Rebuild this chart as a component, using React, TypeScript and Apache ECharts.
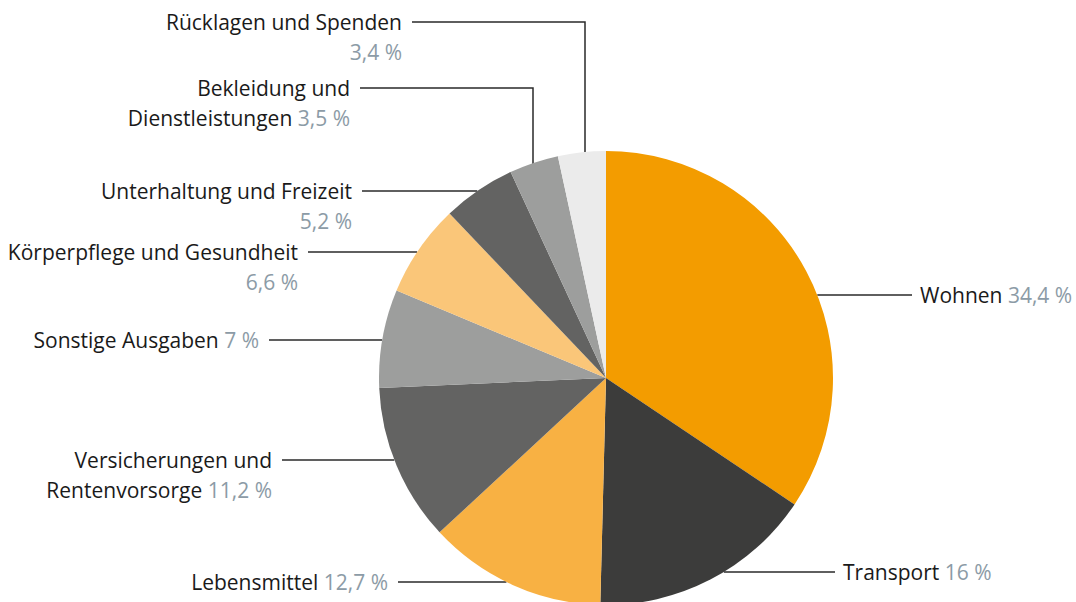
import React, { useEffect, useRef } from "react";
import * as echarts from "echarts";

const categories = [
  "Wohnen",
  "Transport",
  "Lebensmittel",
  "Versicherungen und\nRentenvorsorge",
  "Sonstige Ausgaben",
  "Körperpflege und Gesundheit",
  "Unterhaltung und Freizeit",
  "Bekleidung und\nDienstleistungen",
  "Rücklagen und Spenden",
];
const values = [34.4, 16, 12.7, 11.2, 7, 6.6, 5.2, 3.5, 3.4];
const valueOnNewLine = [false, false, false, false, false, true, true, false, true];
const colors = [
  "#F39C00",
  "#3C3C3B",
  "#F8B143",
  "#636362",
  "#9D9E9D",
  "#FAC679",
  "#636362",
  "#9D9E9D",
  "#EBEBEB",
];

// label placement (styling/layout only)
const CX = 606;
const CY = 378;
const R = 227;
const LH = 30;
const FS = 21;
const layout = [
  { side: "right", textX: 920, lineY: 295 },
  { side: "right", textX: 843, lineY: 572 },
  { side: "left", textX: 388, lineY: 582 },
  { side: "left", textX: 272, lineY: 460 },
  { side: "left", textX: 259, lineY: 340 },
  { side: "left", textX: 298, lineY: 252 },
  { side: "left", textX: 352, lineY: 191 },
  { side: "left", textX: 350, lineY: 88, elbowX: 533 },
  { side: "left", textX: 402, lineY: 22, elbowX: 585 },
];

const fmt = (v: number) => String(v).replace(".", ",") + " %";

export default function App() {
  const ref = useRef<HTMLDivElement>(null);
  useEffect(() => {
    if (!ref.current) return;
    const chart = echarts.init(ref.current, null, { renderer: "svg" });
    const data = categories.map((name, i) => ({
      name,
      value: values[i],
      itemStyle: { color: colors[i] },
    }));
    chart.setOption({
      animation: false,
      backgroundColor: "#ffffff",
      series: [
        {
          type: "pie",
          center: [CX, CY],
          radius: R,
          startAngle: 90,
          clockwise: true,
          avoidLabelOverlap: false,
          data,
          label: {
            show: true,
            position: "outside",
            fontFamily: "Open Sans",
            fontSize: FS,
            lineHeight: LH,
            color: "#1a1a1a",
            formatter: (p: any) => {
              const i = p.dataIndex;
              const sep = valueOnNewLine[i] ? "\n" : " ";
              return categories[i] + sep + "{v|" + fmt(values[i]) + "}";
            },
            rich: {
              v: {
                color: "#8C9BA6",
                fontFamily: "Open Sans",
                fontSize: FS,
                lineHeight: LH,
              },
            },
          },
          labelLine: {
            show: true,
            length: 10,
            length2: 10,
            lineStyle: { color: "#2a2a2a", width: 1.5 },
          },
          labelLayout: (p: any) => {
            const L: any = layout[p.dataIndex];
            const right = L.side === "right";
            const textEnd = right ? L.textX - 8 : L.textX + 10;
            let pts: number[][];
            if (L.elbowX !== undefined) {
              const ey = CY - Math.sqrt(R * R - (L.elbowX - CX) * (L.elbowX - CX));
              pts = [
                [L.elbowX, ey + 4],
                [L.elbowX, L.lineY],
                [textEnd, L.lineY],
              ];
            } else {
              const dy = L.lineY - CY;
              const dx = Math.sqrt(Math.max(0, R * R - dy * dy));
              const ex = right ? CX + dx : CX - dx;
              pts = [
                [ex, L.lineY],
                [(ex + textEnd) / 2, L.lineY],
                [textEnd, L.lineY],
              ];
            }
            return {
              x: L.textX,
              y: L.lineY - LH / 2,
              align: right ? "left" : "right",
              verticalAlign: "top",
              labelLinePoints: pts,
            };
          },
        },
      ],
    });
    return () => chart.dispose();
  }, []);
  return (
    <div
      ref={ref}
      style={{ position: "fixed", left: 0, top: 0, width: 1076, height: 602 }}
    />
  );
}
